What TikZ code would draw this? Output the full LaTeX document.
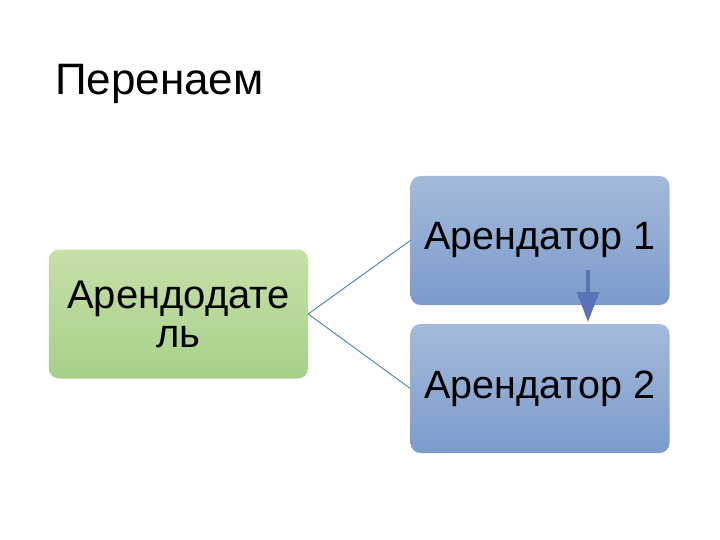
\documentclass[tikz,border=0pt]{standalone}
\usepackage{fontspec}
\setmainfont{Liberation Sans}
\usetikzlibrary{arrows.meta}
\definecolor{gtop}{HTML}{C6E0A8}
\definecolor{gbot}{HTML}{A8D08A}
\definecolor{btop}{HTML}{A4BADB}
\definecolor{bbot}{HTML}{7B9BCB}
\definecolor{conn}{HTML}{4480AA}
\definecolor{arr}{HTML}{5A73B8}
\tikzset{
  box/.style={rounded corners=10pt, minimum width=259pt, minimum height=129pt, inner sep=0pt, align=center,
    font=\fontsize{39.5}{40}\selectfont},
  greenbox/.style={box, top color=gtop, bottom color=gbot, font=\fontsize{40}{39}\selectfont},
  bluebox/.style={box, top color=btop, bottom color=bbot},
  connector/.style={draw=conn, line width=0.9pt},
}
\begin{document}
\begin{tikzpicture}[x=1pt,y=-1pt]
\useasboundingbox (0,0) rectangle (720,540);
\node[anchor=base west, inner sep=0pt, font=\fontsize{44}{46}\selectfont] (title) at (55,95) {Перенаем};
\node[greenbox] (lord) at (178.5,314) {Арендодате\\ль};
\node[bluebox] (t1) at (540,240.5) {Арендатор 1};
\node[bluebox] (t2) at (540,388.5) {Арендатор 2};
\draw[connector] (lord.east) -- (t1.west);
\draw[connector] (lord.east) -- (t2.west);
\coordinate (as) at (588,270);
\coordinate (ae) at (588,322);
\draw[arr, line width=4pt, -{Triangle[width=22pt,length=30pt]}] (as) -- (ae);
\end{tikzpicture}
\end{document}
